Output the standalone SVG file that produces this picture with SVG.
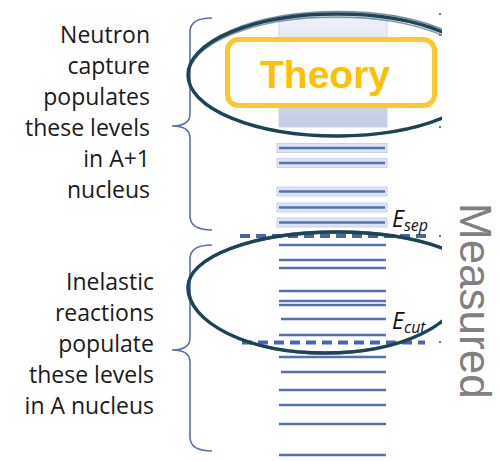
<svg xmlns="http://www.w3.org/2000/svg" width="500" height="461" viewBox="0 0 500 461">
<style>
.lbl{font-family:"Open Sans","Liberation Sans",sans-serif;font-size:23px;fill:#1a1a1a;text-anchor:end}
.brace{fill:none;stroke:#5d70a6;stroke-width:1.6}
.band{fill:#dde3f1;stroke:#cbd3e8;stroke-width:1}
.lvl{stroke:#5670b3;stroke-width:2.4;fill:none}
.dash{stroke:#4a64ad;stroke-width:4;stroke-dasharray:10 6;fill:none}
.ell{fill:none;stroke:#1d4557}
.elab{font-family:"Open Sans","Liberation Sans",sans-serif;font-style:italic;font-size:23px;fill:#111}
.tick{fill:#5d70a6}
</style>
<defs>
<linearGradient id="col" x1="0" y1="0" x2="0" y2="1">
<stop offset="0" stop-color="#eef0f8"/>
<stop offset="1" stop-color="#c3cce6"/>
</linearGradient>
<clipPath id="clipR"><rect x="0" y="0" width="442" height="461"/></clipPath>
</defs>

<g id="label-neutron-capture">
<text class="lbl" x="150" y="42.5">Neutron</text>
<text class="lbl" x="150" y="73.5">capture</text>
<text class="lbl" x="150" y="104.5">populates</text>
<text class="lbl" x="150" y="135.5">these levels</text>
<text class="lbl" x="150" y="166.5">in A+1</text>
<text class="lbl" x="150" y="197.5">nucleus</text>
</g>

<g id="label-inelastic">
<text class="lbl" x="154" y="290">Inelastic</text>
<text class="lbl" x="154" y="321">reactions</text>
<text class="lbl" x="154" y="352">populate</text>
<text class="lbl" x="154" y="383">these levels</text>
<text class="lbl" x="154" y="414">in A nucleus</text>
</g>

<g id="connectors">
<path class="brace" d="M212 18 Q190 18 190 32 L190 114 Q190 126 172 126 Q190 126 190 138 L190 216 Q190 230 212 230"/>
<path class="brace" d="M212 245 Q190 245 190 259 L190 338 Q190 350 172 350 Q190 350 190 362 L190 437 Q190 451 212 451"/>
</g>

<g id="level-scheme">
<rect x="279" y="18" width="108" height="109" fill="url(#col)" stroke="#cdd4e8" stroke-width="1"/>
<rect class="band" x="277" y="143.5" width="110" height="9"/>
<rect class="band" x="277" y="158.5" width="110" height="9"/>
<rect class="band" x="277" y="187" width="110" height="9"/>
<rect class="band" x="277" y="203" width="110" height="9"/>
<rect class="band" x="277" y="218" width="110" height="9"/>
<path class="lvl" d="M279 148H385M279 163H385M279 191.5H385M279 207.5H385M279 222.5H385"/>
<path class="lvl" d="M279 245H386M279 260H386M279 268H386M279 291H386M279 301H386M279 305H386M281 319H386M279 335H386M279 357H386M281 372H386M279 390H386M279 405H386M279 424H386"/>
<path class="lvl" stroke-width="4" d="M279 455H386"/>
</g>

<g id="e-sep">
<path class="dash" d="M240 236H432"/>
<text class="elab" x="392" y="227">E<tspan font-size="16" dy="4">sep</tspan></text>
</g>

<g id="e-cut">
<path class="dash" d="M242 342.5H425"/>
<text class="elab" x="392" y="329">E<tspan font-size="16" dy="4">cut</tspan></text>
</g>

<g id="ellipse-theory" clip-path="url(#clipR)">
<ellipse class="ell" cx="337" cy="75" rx="149" ry="61" stroke-width="3.4"/>
<ellipse class="ell" cx="338" cy="74" rx="150" ry="62.5" stroke-width="1.4" opacity="0.6"/>
<ellipse class="ell" cx="336" cy="76.5" rx="147.5" ry="59.5" stroke-width="1.4" opacity="0.55"/>
</g>

<g id="ellipse-measured" clip-path="url(#clipR)">
<path class="ell" stroke-width="3.4" d="M188 287A149 55 0 0 1 486 287M188 287A137 66 0 0 0 462 287"/>
<path class="ell" stroke-width="1.4" opacity="0.6" d="M187 288A150 57 0 0 1 487 288M187 288A138 64 0 0 0 463 288"/>
<path class="ell" stroke-width="1.4" opacity="0.55" d="M189 286A148 53 0 0 1 485 286M189 286A136 68 0 0 0 461 286"/>
</g>

<g id="theory">
<rect x="227.5" y="39.5" width="207" height="66" rx="11" fill="#ffffff" stroke="#ffc72c" stroke-width="5"/>
<text x="325" y="88" text-anchor="middle" font-family="'Liberation Sans',Arial,sans-serif" font-weight="bold" font-size="39" fill="#ffc000">Theory</text>
</g>

<g id="edge-ticks">
<rect class="tick" x="439" y="13" width="2" height="2"/>
<rect class="tick" x="439" y="34" width="2" height="2"/>
<rect class="tick" x="439" y="126" width="2" height="2"/>
<rect class="tick" x="439" y="235" width="2" height="2"/>
<rect class="tick" x="439" y="341" width="2" height="2"/>
</g>

<g id="measured">
<text transform="translate(460,203) rotate(90)" font-family="'Liberation Sans',Arial,sans-serif" font-size="44" fill="#808080">Measured</text>
</g>
</svg>
